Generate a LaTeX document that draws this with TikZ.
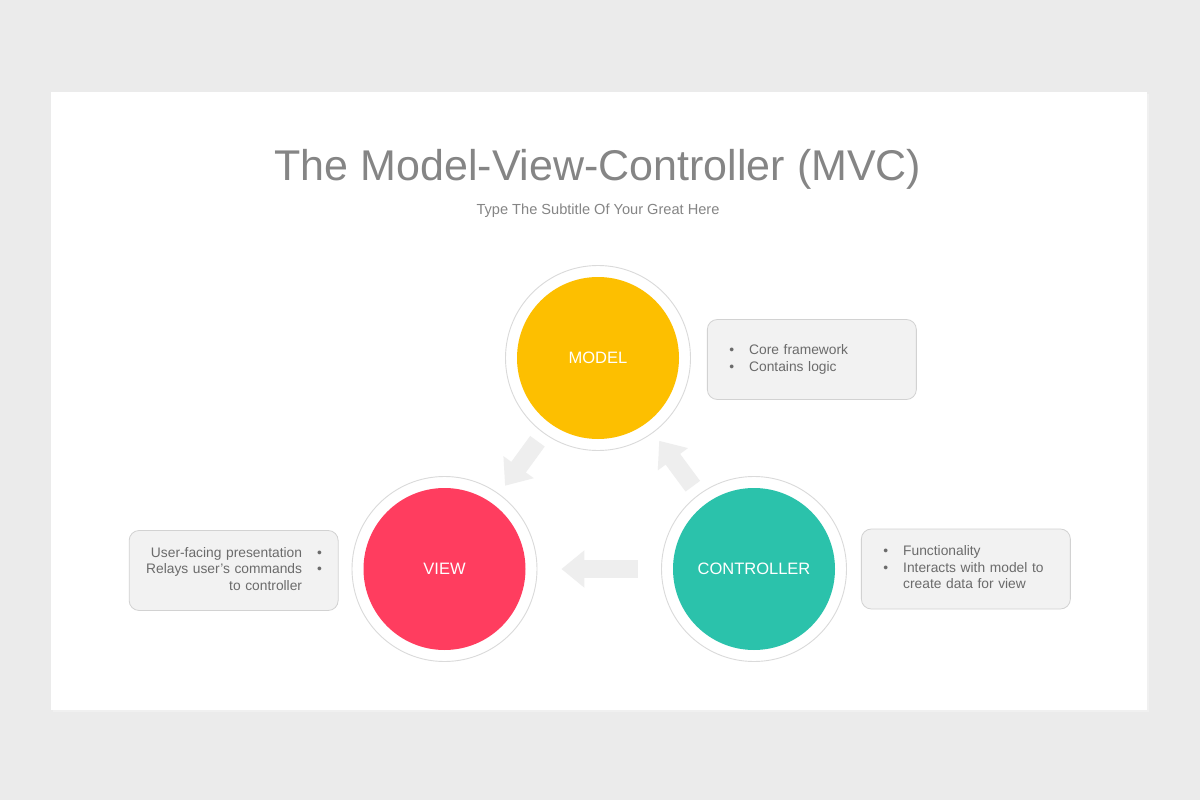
\documentclass[tikz,border=0pt]{standalone}
\usepackage{fontspec}
\setmainfont{Liberation Sans}
\usetikzlibrary{positioning,arrows.meta}
\definecolor{pagegray}{HTML}{EBEBEB}
\definecolor{titlegray}{HTML}{858585}
\definecolor{textgray}{HTML}{6B6B6B}
\definecolor{boxfill}{HTML}{F2F2F2}
\definecolor{boxline}{HTML}{D2D2D2}
\definecolor{ringline}{HTML}{DADADA}
\definecolor{arrowgray}{HTML}{EEEEEE}
\definecolor{modelyellow}{HTML}{FDBF00}
\definecolor{viewred}{HTML}{FF3D5F}
\definecolor{ctrlteal}{HTML}{2BC2AB}

\begin{document}
\begin{tikzpicture}[x=1pt,y=-1pt,
			ring/.style={circle,draw=ringline,line width=0.9pt,fill=white,minimum size=185pt,inner sep=0pt},
			disc/.style={circle,fill=#1,minimum size=162pt,inner sep=0pt,text=white,font=\fontsize{16.5}{20}\selectfont},
			infobox/.style={draw=boxline,fill=boxfill,line width=0.8pt,rounded corners=10pt,minimum height=80pt,
				text width=165pt,inner xsep=22pt,text=textgray,font=\fontsize{13.8}{16.5}\selectfont},
			blockarrow/.style={arrowgray,line width=18pt,-{Triangle[width=36pt,length=23pt]}}]
			\useasboundingbox (0,0) rectangle (1200,800);
			% slide
			\fill[pagegray] (0,0) rectangle (1200,800);
			\fill[black!6] (53,94) rectangle (1149,712);
			\fill[white] (51,92) rectangle (1147,710);
			
			\node[text=titlegray,font=\fontsize{43}{50}\selectfont,anchor=base] (title) at (598,180) {The Model-View-Controller (MVC)};
			\node[text=titlegray,font=\fontsize{14.6}{17}\selectfont,anchor=base] (subtitle) at (598,214) {Type The Subtitle Of Your Great Here};
			
			\node[ring] (model) at (598,358) {};
			\node[ring] (view) at (444.5,569) {};
			\node[ring] (ctrl) at (754,569) {};
			\node[disc=modelyellow] (modeldisc) at (model) {MODEL};
			\node[disc=viewred] (viewdisc) at (view) {VIEW};
			\node[disc=ctrlteal] (ctrldisc) at (ctrl) {CONTROLLER};
			
			\draw[blockarrow,shorten <=10pt,shorten >=10pt] (model) -- (view);
			\draw[blockarrow,shorten <=10pt,shorten >=10pt] (ctrl) -- (model);
			\draw[blockarrow,shorten <=23.5pt,shorten >=24pt] (ctrl) -- (view);
			
			\node[infobox,right=16pt of model,yshift=-1.5pt] (modelinfo) {\begin{tabular}{@{}l@{\hspace{15pt}}l@{}}
					•&Core framework\\
					•&Contains logic
			\end{tabular}};
			\node[infobox,left=13pt of view,align=right,text width=175pt,inner xsep=17pt,yshift=-1.5pt] (viewinfo) {\begin{tabular}{@{}r@{\hspace{15pt}}l@{}}
					User-facing presentation&•\\
					Relays user's commands&•\\
					to controller&
			\end{tabular}};
			\node[infobox,right=14pt of ctrl] (ctrlinfo) {\begin{tabular}{@{}l@{\hspace{15pt}}l@{}}
					•&Functionality\\
					•&Interacts with model to\\
					&create data for view
			\end{tabular}};
\end{tikzpicture}
\end{document}
